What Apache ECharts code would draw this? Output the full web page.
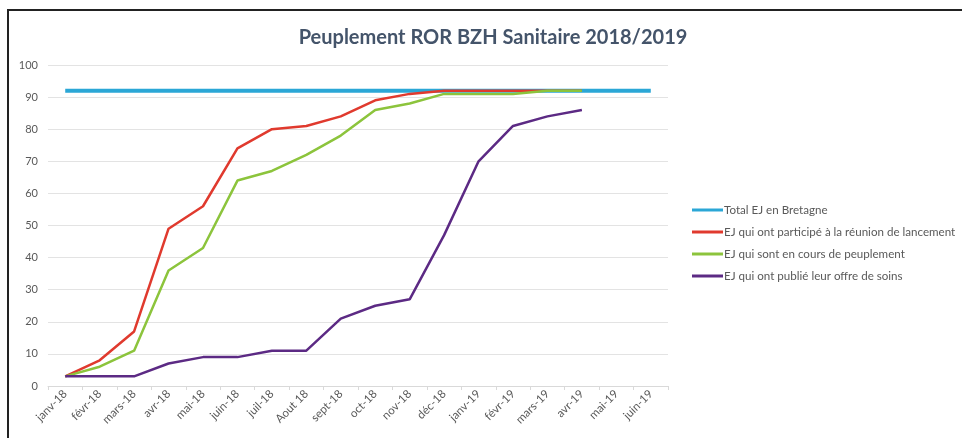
<!DOCTYPE html>
<html>
<head>
<meta charset="utf-8">
<script src="https://cdn.jsdelivr.net/npm/echarts@6/dist/echarts.min.js"></script>
<style>
  html, body { margin: 0; padding: 0; background: #fff; }
  #chart { width: 962px; height: 438px; }
  #frame { position: absolute; left: 7px; top: 9px; width: 962px; height: 438px;
           border-left: 2px solid #222; border-top: 2px solid #222; pointer-events: none; }
</style>
</head>
<body>
<div id="chart"></div>
<div id="frame"></div>
<script>
  // mois (axe x)
  var months = ['janv-18', 'févr-18', 'mars-18', 'avr-18', 'mai-18', 'juin-18', 'juil-18', 'Aout 18',
    'sept-18', 'oct-18', 'nov-18', 'déc-18', 'janv-19', 'févr-19', 'mars-19', 'avr-19', 'mai-19', 'juin-19'];

  var seriesNames = ['Total EJ en Bretagne', 'EJ qui ont participé à la réunion de lancement',
    'EJ qui sont en cours de peuplement', 'EJ qui ont publié leur offre de soins'];

  var totalEJ = [92, 92, 92, 92, 92, 92, 92, 92, 92, 92, 92, 92, 92, 92, 92, 92, 92, 92];
  var reunion = [3, 8, 17, 49, 56, 74, 80, 81, 84, 89, 91, 92, 92, 92, 92, 92];
  var peuplement = [3, 6, 11, 36, 43, 64, 67, 72, 78, 86, 88, 91, 91, 91, 92, 92];
  var publie = [3, 3, 3, 7, 9, 9, 11, 11, 21, 25, 27, 47, 70, 81, 84, 86];

  var colors = ['#2BA7D6', '#E03A2E', '#8CC43C', '#5C2A84'];

  var chart = echarts.init(document.getElementById('chart'));

  function line(name, data, color, width) {
    return {
      name: name,
      type: 'line',
      data: data,
      showSymbol: false,
      symbol: 'none',
      lineStyle: { color: color, width: width },
      itemStyle: { color: color },
      animation: false
    };
  }

  var option = {
    backgroundColor: '#fff',
    title: {
      text: 'Peuplement ROR BZH Sanitaire 2018/2019',
      left: 488,
      textAlign: 'center',
      top: 23,
      textStyle: { fontFamily: 'Lato', fontSize: 20, fontWeight: 'bold', color: '#44546A' }
    },
    grid: { left: 48, right: 294, top: 65, bottom: 52 },
    legend: {
      orient: 'vertical',
      left: 692,
      top: 204,
      padding: 0,
      itemWidth: 31,
      itemHeight: 3,
      itemGap: 10,
      icon: 'rect',
      textStyle: { fontFamily: 'Lato', fontSize: 11.6, color: '#595959', padding: [0, 0, 0, -4] },
      data: seriesNames
    },
    xAxis: {
      type: 'category',
      data: months,
      boundaryGap: true,
      axisLine: { lineStyle: { color: '#D9D9D9' } },
      axisTick: { show: true, length: 4, lineStyle: { color: '#D9D9D9' } },
      axisLabel: { rotate: 45, interval: 0, fontFamily: 'Lato', fontSize: 11.5, color: '#595959', margin: 6 }
    },
    yAxis: {
      type: 'value',
      min: 0,
      max: 100,
      interval: 10,
      axisLine: { show: false },
      axisTick: { show: false },
      splitLine: { lineStyle: { color: '#E3E3E3' } },
      axisLabel: { fontFamily: 'Lato', fontSize: 11, color: '#595959', margin: 10 }
    },
    series: [
      line(seriesNames[0], totalEJ, colors[0], 4),
      line(seriesNames[1], reunion, colors[1], 2.5),
      line(seriesNames[2], peuplement, colors[2], 2.5),
      line(seriesNames[3], publie, colors[3], 2.5)
    ]
  };

  chart.setOption(option);
</script>
</body>
</html>
